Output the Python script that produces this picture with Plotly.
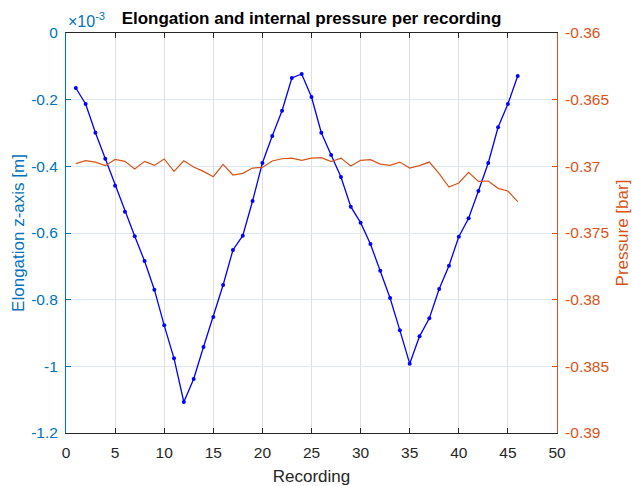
import plotly.graph_objects as go

# Recording index
recording = list(range(1, 47))

# Elongation along z-axis [m]
elongation = [
    -0.165e-3, -0.213e-3, -0.299e-3, -0.377e-3, -0.458e-3, -0.536e-3, -0.610e-3, -0.684e-3,
    -0.770e-3, -0.877e-3, -0.976e-3, -1.107e-3, -1.038e-3, -0.942e-3, -0.852e-3, -0.756e-3,
    -0.651e-3, -0.608e-3, -0.504e-3, -0.390e-3, -0.309e-3, -0.233e-3, -0.135e-3, -0.123e-3,
    -0.192e-3, -0.299e-3, -0.366e-3, -0.432e-3, -0.521e-3, -0.569e-3, -0.633e-3, -0.713e-3,
    -0.795e-3, -0.892e-3, -0.992e-3, -0.910e-3, -0.856e-3, -0.768e-3, -0.698e-3, -0.611e-3,
    -0.556e-3, -0.474e-3, -0.390e-3, -0.283e-3, -0.213e-3, -0.129e-3,
]

# Internal pressure [bar]
pressure = [
    -0.36980, -0.36958, -0.36968, -0.36995, -0.36948, -0.36963, -0.37020, -0.36963,
    -0.36993, -0.36945, -0.37038, -0.36958, -0.37005, -0.37038, -0.37078, -0.36985,
    -0.37065, -0.37053, -0.37013, -0.37008, -0.36960, -0.36943, -0.36938, -0.36955,
    -0.36938, -0.36935, -0.36965, -0.36938, -0.36998, -0.36955, -0.36950, -0.36983,
    -0.36993, -0.36968, -0.37013, -0.36995, -0.36968, -0.37055, -0.37155, -0.37125,
    -0.37045, -0.37113, -0.37110, -0.37165, -0.37185, -0.37265,
]

# Axis ticks
x_ticks = [0, 5, 10, 15, 20, 25, 30, 35, 40, 45, 50]
left_tick_vals = [0, -0.2e-3, -0.4e-3, -0.6e-3, -0.8e-3, -1.0e-3, -1.2e-3]
left_tick_text = ["0", "-0.2", "-0.4", "-0.6", "-0.8", "-1", "-1.2"]
right_tick_vals = [-0.36, -0.365, -0.37, -0.375, -0.38, -0.385, -0.39]
right_tick_text = ["-0.36", "-0.365", "-0.37", "-0.375", "-0.38", "-0.385", "-0.39"]

BLUE_AXIS = "#0072BD"
ORANGE = "#D95319"
DARK = "#262626"
FONT = "Liberation Sans, Arial, sans-serif"

fig = go.Figure()

fig.add_trace(go.Scatter(
    x=recording, y=elongation, mode="lines+markers",
    line=dict(color="#0000FF", width=1.3),
    marker=dict(color="#0000FF", size=4),
    yaxis="y", showlegend=False,
))

fig.add_trace(go.Scatter(
    x=recording, y=pressure, mode="lines",
    line=dict(color=ORANGE, width=1.2),
    yaxis="y2", showlegend=False,
))

fig.update_layout(
    width=632, height=486,
    margin=dict(l=66, r=75, t=33, b=53),
    paper_bgcolor="white", plot_bgcolor="white",
    font=dict(family=FONT, size=15.5, color=DARK),
    title=dict(
        text="<b>Elongation and internal pressure per recording</b>",
        x=0.5, xanchor="center", xref="paper",
        y=1 - 18 / 486, yref="container", yanchor="middle",
        font=dict(size=17, color="#000000"),
    ),
    xaxis=dict(
        range=[0, 50], tickvals=x_ticks,
        showgrid=True, gridcolor="#DFDFDF", gridwidth=1,
        showline=True, linecolor=DARK, linewidth=1, mirror="ticks",
        ticks="inside", ticklen=5, tickcolor=DARK,
        zeroline=False, ticklabelstandoff=5, automargin=False,
        tickfont=dict(size=15.5, color=DARK),
        title=dict(text="Recording", font=dict(size=17, color=DARK), standoff=10),
    ),
    yaxis=dict(
        range=[-1.2e-3, 0], tickvals=left_tick_vals, ticktext=left_tick_text,
        showgrid=True, gridcolor="#DCE9F4", gridwidth=1,
        showline=True, linecolor=BLUE_AXIS, linewidth=1,
        ticks="inside", ticklen=5, tickcolor=BLUE_AXIS,
        zeroline=False, ticklabelstandoff=4, automargin=False,
        tickfont=dict(size=15.5, color=BLUE_AXIS),
        title=dict(text="Elongation z-axis [m]", font=dict(size=17, color=BLUE_AXIS), standoff=2),
    ),
    yaxis2=dict(
        range=[-0.39, -0.36], tickvals=right_tick_vals, ticktext=right_tick_text,
        overlaying="y", side="right", showgrid=False,
        showline=True, linecolor=ORANGE, linewidth=1,
        ticks="inside", ticklen=5, tickcolor=ORANGE,
        zeroline=False, ticklabelstandoff=4, automargin=False,
        tickfont=dict(size=15.5, color=ORANGE),
        title=dict(text="Pressure [bar]", font=dict(size=17, color=ORANGE), standoff=10),
    ),
    annotations=[
        dict(
            text="×10<sup>-3</sup>", xref="paper", yref="paper",
            x=0, y=1, xanchor="left", yanchor="bottom", yshift=1,
            showarrow=False, font=dict(size=16, color=BLUE_AXIS, family=FONT),
        )
    ],
)

fig.write_html("out.html")
